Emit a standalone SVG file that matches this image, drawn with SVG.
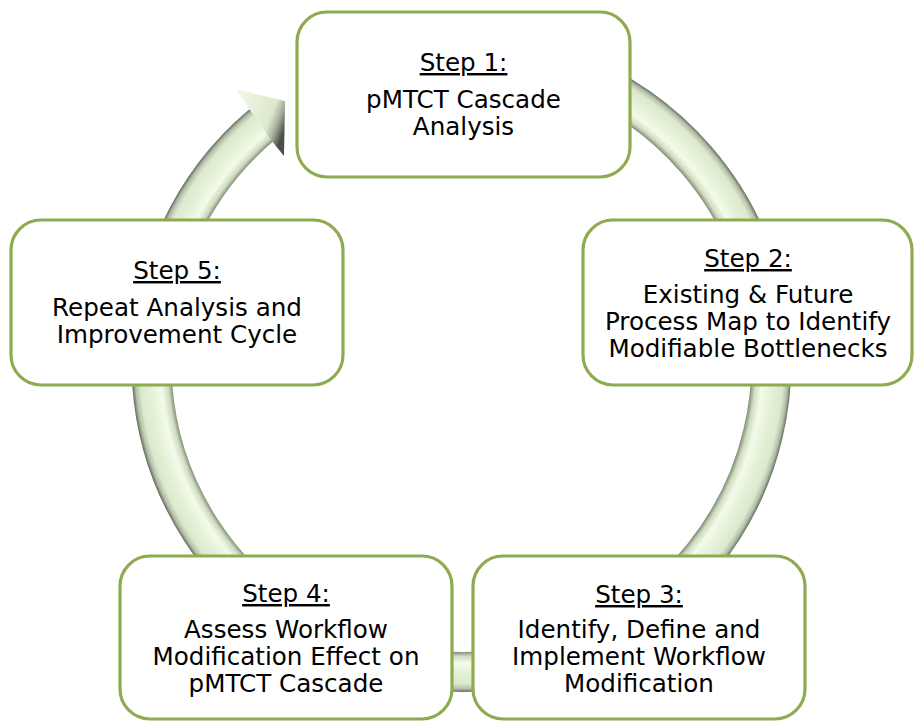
<svg xmlns="http://www.w3.org/2000/svg" width="914" height="721" viewBox="0 0 914 721">
<defs>
<style>
.box{fill:#ffffff;stroke:#8eab52;stroke-width:3.2}
.t{font-family:"DejaVu Sans","Verdana",sans-serif;font-size:24.6px;fill:#000000;text-anchor:middle}
.u{text-decoration:underline}
</style>
<radialGradient id="ringGrad" gradientUnits="userSpaceOnUse" cx="461.5" cy="362" r="330">
<stop offset="0.878" stop-color="#7f8a76"/>
<stop offset="0.892" stop-color="#cfddc0"/>
<stop offset="0.912" stop-color="#f3faea"/>
<stop offset="0.94" stop-color="#e6f2d9"/>
<stop offset="0.975" stop-color="#dce9cd"/>
<stop offset="0.99" stop-color="#b3bfa8"/>
<stop offset="1" stop-color="#656d5f"/>
</radialGradient>
<linearGradient id="headGrad" gradientUnits="userSpaceOnUse" x1="238" y1="110" x2="285" y2="128">
<stop offset="0" stop-color="#eef6e4"/>
<stop offset="0.65" stop-color="#dde9cc"/>
<stop offset="0.82" stop-color="#a7b29c"/>
<stop offset="1" stop-color="#4a5046"/>
</linearGradient>
</defs>
<rect width="914" height="721" fill="#ffffff"/>
<g id="connectors">
<path d="M 434.5 53.2 A 310 310 0 1 1 262.2 124.5" fill="none" stroke="url(#ringGrad)" stroke-width="40"/>
<polygon points="236,89 285,101 284,156 271,140 255,117" fill="url(#headGrad)"/>
</g>
<g id="step1">
<rect class="box" x="297" y="12" width="333" height="165" rx="30"/>
<text class="t" x="463.5" y="71"><tspan class="u">Step 1:</tspan></text>
<text class="t" x="463.5" y="108">pMTCT Cascade</text>
<text class="t" x="463.5" y="135">Analysis</text>
</g>
<g id="step2">
<rect class="box" x="583" y="220" width="329" height="165" rx="30"/>
<text class="t" x="748" y="267"><tspan class="u">Step 2:</tspan></text>
<text class="t" x="748" y="303">Existing &amp; Future</text>
<text class="t" x="748" y="330">Process Map to Identify</text>
<text class="t" x="748" y="357">Modifiable Bottlenecks</text>
</g>
<g id="step3">
<rect class="box" x="473" y="556" width="332" height="163" rx="30"/>
<text class="t" x="639" y="603"><tspan class="u">Step 3:</tspan></text>
<text class="t" x="639" y="638">Identify, Define and</text>
<text class="t" x="639" y="665">Implement Workflow</text>
<text class="t" x="639" y="692">Modification</text>
</g>
<g id="step4">
<rect class="box" x="120" y="556" width="332" height="163" rx="30"/>
<text class="t" x="286" y="602"><tspan class="u">Step 4:</tspan></text>
<text class="t" x="286" y="638">Assess Workflow</text>
<text class="t" x="286" y="665">Modification Effect on</text>
<text class="t" x="286" y="692">pMTCT Cascade</text>
</g>
<g id="step5">
<rect class="box" x="11" y="220" width="332" height="165" rx="30"/>
<text class="t" x="177" y="279"><tspan class="u">Step 5:</tspan></text>
<text class="t" x="177" y="316">Repeat Analysis and</text>
<text class="t" x="177" y="343">Improvement Cycle</text>
</g>
</svg>
